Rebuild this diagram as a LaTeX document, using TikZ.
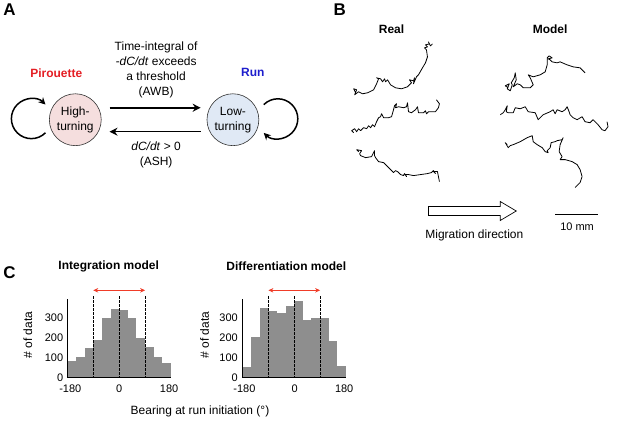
\documentclass[tikz,border=0pt]{standalone}
\usepackage{fontspec}
\setmainfont{Liberation Sans}
\usepackage{tikz}
\usetikzlibrary{arrows.meta}

\definecolor{hipink}{RGB}{245,222,222}
\definecolor{lowblue}{RGB}{224,233,245}
\definecolor{pirred}{RGB}{228,30,36}
\definecolor{runblue}{RGB}{30,30,205}
\definecolor{bargray}{RGB}{142,142,142}
\definecolor{spreadred}{RGB}{240,60,40}

\tikzset{
  lbl/.style={font=\fontsize{12}{15}\selectfont},
  ticklbl/.style={font=\fontsize{11}{13}\selectfont, inner sep=0pt},
  ttl/.style={font=\bfseries\fontsize{12}{14}\selectfont},
  panel/.style={font=\bfseries\fontsize{17}{19}\selectfont},
  turnstate/.style={circle, draw=black!80, line width=0.6pt, minimum size=52pt,
    inner sep=0pt, align=center, lbl},
  trans/.style={line width=1.6pt, -{Stealth[length=8pt,width=8pt]}},
  selfloop/.style={line width=1.5pt, -{Stealth[length=7pt,width=7pt]}},
  traj/.style={line width=0.8pt, line join=round},
  guide/.style={dash pattern=on 2.5pt off 1.5pt, line width=0.7pt},
  spread/.style={spreadred, line width=0.7pt,
    {Stealth[length=5pt,width=4.5pt]}-{Stealth[length=5pt,width=4.5pt]}},
}

\begin{document}
\begin{tikzpicture}[x=1pt, y=-1pt]
    \path[fill=white] (0,0) rectangle (617,423);

    % A: two states
    \node[panel] (pA) at (8,10) {A};
    \node[ttl, pirred] (pir) at (55,73) {Pirouette};
    \node[ttl, runblue] (run) at (252,73) {Run};
    \node[turnstate, fill=hipink] (hi) at (74,120) {High-\\turning};
    \node[turnstate, fill=lowblue] (lo) at (232,120) {Low-\\turning};
    \draw[trans] ([xshift=8pt, yshift=12pt]hi.east) -- ([xshift=-6pt, yshift=12pt]lo.west);
    \draw[trans] ([xshift=-6pt, yshift=-12pt]lo.west) -- ([xshift=8pt, yshift=-12pt]hi.east);
    \node[lbl, align=center] (awb) at (155,70.5) {Time-integral of\\\textit{-dC/dt} exceeds\\a threshold\\(AWB)};
    \node[lbl, align=center] (ash) at (155,155) {\textit{dC/dt} > 0\\(ASH)};
    \coordinate (hiloop) at (44.1,133.1);
    \coordinate (loloop) at (262.9,104.9);
    \draw[selfloop] (hiloop) arc[start angle=-45, end angle=-315, radius=20pt];
    \draw[selfloop] (loloop) arc[start angle=135, end angle=-135, radius=20pt];

    % B: tracks
    \node[panel] (pB) at (339,10) {B};
    \node[ttl] (real) at (391,29) {Real};
    \node[ttl] (model) at (550,29) {Model};
    \draw[traj] plot coordinates {(355,93) (353,89) (356,90) (354,95) (358,92) (362,94) (367,93) (373,90) (376,84) (378,79) (376,78) (380,79) (382,82) (384,79) (385,82) (387,80) (390,85) (395,88) (401,89) (407,87) (411,83) (409,80) (413,81) (414,78) (413,84) (416,77) (418,75) (422,68) (425,63) (427,57) (426,50) (424,48) (427,47) (425,45) (429,44) (428,42) (430,46) (432,44)};
    \draw[traj] plot coordinates {(353,133) (351,131) (354,129) (356,132) (358,129) (360,131) (363,128) (366,129) (368,126) (370,128) (372,125) (374,127) (376,122) (378,118) (380,117) (381,114) (383,118) (388,118) (391,117) (393,110) (394,106) (396,104) (395,108) (398,107) (403,108) (406,107) (407,103) (408,112) (411,113) (415,110) (417,107) (418,113) (423,113) (425,111) (426,114) (428,112) (435,112) (438,108) (439,104) (436,100)};
    \draw[traj] plot coordinates {(358,152) (356,150) (361,151) (359,154) (360,156) (365,158) (371,157) (373,153) (374,151) (374,156) (375,158) (378,162) (383,163) (388,168) (393,173) (395,171) (397,172) (400,175) (403,176) (404,174) (406,177) (405,175) (408,175) (413,176) (420,175) (427,174) (431,173) (433,171) (435,174) (433,172) (437,172) (438,177) (439,182)};
    \draw[traj] plot coordinates {(508,88) (505,86) (509,84) (507,89) (510,91) (512,85) (511,83) (514,78) (515,73) (516,80) (513,87) (517,84) (520,85) (523,88) (530,88) (533,85) (530,78) (528,75) (533,77) (540,75) (545,72) (547,65) (547,58) (549,56) (552,58) (548,59) (550,60) (552,62) (557,63) (560,62) (567,65) (573,67) (580,68) (585,73)};
    \draw[traj] plot coordinates {(500,115) (503,113) (505,110) (507,106) (506,112) (508,113) (513,113) (515,108) (520,109) (525,107) (528,112) (535,113) (538,120) (543,115) (550,112) (553,110) (555,114) (557,110) (562,112) (565,110) (567,107) (569,112) (570,115) (573,118) (577,120) (582,117) (585,122) (590,123) (593,120) (598,125) (602,130) (605,131) (608,127) (607,122)};
    \draw[traj] plot coordinates {(507,145) (505,143) (508,148) (510,146) (513,145) (520,142) (527,138) (532,136) (533,142) (537,145) (542,148) (545,152) (548,153) (547,151) (550,148) (551,143) (555,142) (557,141) (562,140) (563,138) (560,145) (559,152) (562,157) (560,160) (565,160) (572,162) (577,165) (580,170) (582,177) (580,183) (575,188)};
    \draw[line width=0.7pt] (428,207) -- (500,207) -- (500,202) -- (516,211.5) -- (500,221) -- (500,216) -- (428,216) -- cycle;
    \node[lbl] (migr) at (474,236) {Migration direction};
    \coordinate (sbL) at (555,215);
    \coordinate (sbR) at (598,215);
    \draw[line width=0.8pt] (sbL) -- (sbR);
    \node[ticklbl] (sblab) at (577,227) {10 mm};

    % C: histograms
    \node[panel] (pC) at (8,273) {C};
    \node[ttl] (intttl) at (107.5,267) {Integration model};
    \node[ttl] (difttl) at (285.5,267) {Differentiation model};
    \foreach \h [count=\i from 0] in {83,102,147,188,300,347,340,300,197,152,102,73}
        \fill[bargray] ({66+\i*8.667},378.7) rectangle ({66+(\i+1)*8.667},{378.7-\h/5});
    \foreach \h [count=\i from 0] in {55,202,350,335,325,360,385,290,300,302,185,60}
        \fill[bargray] ({241.7+\i*8.633},378.7) rectangle ({241.7+(\i+1)*8.633},{378.7-\h/5});
    \draw[line width=0.8pt] (66,300) -- (66,378.7) -- (170,378.7);
    \draw[line width=0.8pt] (241.7,300) -- (241.7,378.7) -- (345.3,378.7);
    \foreach \x in {92,118,144}
        \draw[guide] (\x,297) -- (\x,378.7);
    \foreach \x in {267.6,293.5,319.4}
        \draw[guide] (\x,297) -- (\x,378.7);
    \coordinate (intL) at (92,291);
    \coordinate (intR) at (144,291);
    \coordinate (difL) at (267.6,291);
    \coordinate (difR) at (319.4,291);
    \draw[spread] (intL) -- (intR);
    \draw[spread] (difL) -- (difR);
    \foreach \v in {0,100,200,300} {
        \node[ticklbl, anchor=east] (iy\v) at (62,{378.7-\v/5}) {\v};
        \node[ticklbl, anchor=east] (dy\v) at (237,{378.7-\v/5}) {\v};
    }
    \node[ticklbl] (ix1) at (69,390) {-180};
    \node[ticklbl] (ix2) at (118,390) {0};
    \node[ticklbl] (ix3) at (168,390) {180};
    \node[ticklbl] (dx1) at (243.5,390) {-180};
    \node[ticklbl] (dx2) at (294,390) {0};
    \node[ticklbl] (dx3) at (343.5,390) {180};
    \node[lbl, rotate=90] (iylab) at (26.5,336) {\# of data};
    \node[lbl, rotate=90] (dylab) at (203.5,336) {\# of data};
    \node[lbl] (bear) at (199,412.5) {Bearing at run initiation (°)};
\end{tikzpicture}
\end{document}
